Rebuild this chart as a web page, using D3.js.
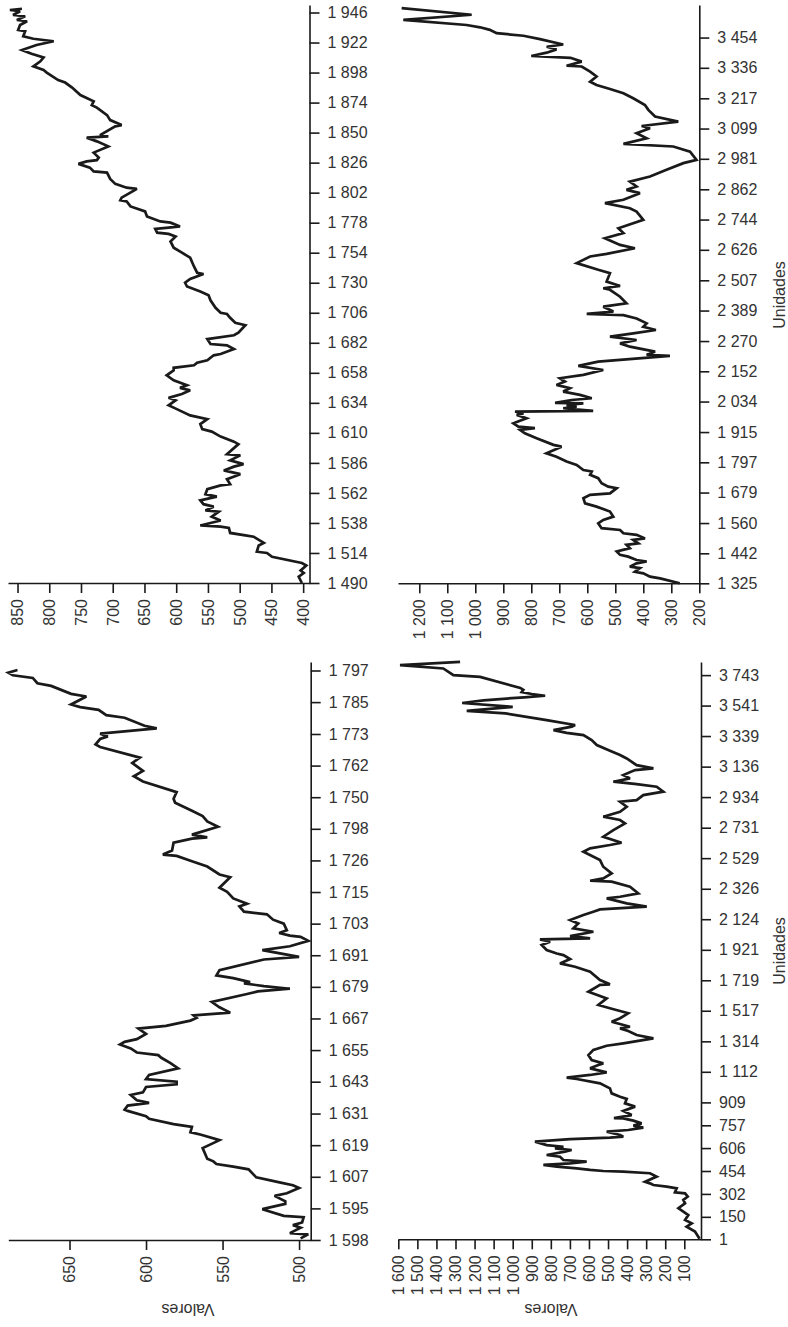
<!DOCTYPE html>
<html>
<head>
<meta charset="utf-8">
<script src="https://cdnjs.cloudflare.com/ajax/libs/d3/7.8.5/d3.min.js"></script>
<style>
  body { margin: 0; background: #fff; }
  svg { display: block; font-family: "Liberation Sans", Arial, sans-serif; }
</style>
</head>
<body>
<div id="wrapper"></div>
<script>
// top-left panel
const tlUnits = [1490,1495,1498,1500,1504,1506,1511,1514,1515,1520,1522,1527,1528,1530,1534,1535,1536,1540,1543,1547,1548,1551,1553,1556,1559,1561,1565,1568,1569,1573,1577,1580,1583,1585,1588,1592,1593,1601,1603,1607,1611,1613,1617,1621,1624,1629,1632,1636,1638,1641,1644,1646,1648,1652,1656,1660,1662,1664,1666,1668,1672,1673,1677,1680,1681,1685,1688,1690,1696,1698,1702,1705,1706,1710,1716,1720,1723,1727,1730,1733,1737,1738,1743,1750,1754,1758,1763,1767,1769,1770,1773,1774,1775,1778,1779,1783,1787,1791,1795,1796,1798,1805,1806,1809,1813,1818,1819,1822,1825,1827,1828,1830,1834,1839,1843,1846,1847,1848,1855,1856,1860,1864,1870,1872,1875,1880,1886,1890,1892,1898,1900,1903,1907,1910,1913,1916,1920,1923,1924,1925,1927,1931,1932,1936,1939,1940,1943,1944,1947,1948,1949]
const tlValues = [402,407,399,404,395,402,449,457,473,470,462,478,491,515,517,530,562,530,544,533,554,541,557,562,536,554,551,530,515,520,499,525,509,494,515,499,520,502,509,530,544,559,562,551,578,599,612,601,612,591,578,594,583,604,615,604,604,572,567,551,541,530,509,520,546,551,509,502,491,507,515,520,530,538,546,549,562,583,586,578,557,567,572,578,591,604,609,601,612,630,633,612,594,609,625,646,649,672,678,688,686,662,678,696,704,709,730,736,754,741,725,722,730,707,725,741,707,720,696,686,704,709,725,733,730,751,764,775,786,804,809,825,814,809,828,843,820,793,809,825,841,838,849,846,835,851,838,857,846,862,843]
const tlValueTicks = [400,450,500,550,600,650,700,750,800,850]
const tlUnitTicks = [1490,1514,1538,1562,1586,1610,1634,1658,1682,1706,1730,1754,1778,1802,1826,1850,1874,1898,1922,1946]

// top-right panel
const trUnits = [1325,1344,1351,1364,1370,1384,1390,1403,1410,1416,1429,1436,1449,1462,1475,1481,1494,1500,1514,1520,1533,1540,1559,1572,1585,1605,1624,1637,1657,1670,1676,1696,1702,1715,1735,1748,1761,1767,1787,1800,1819,1832,1858,1865,1891,1910,1923,1930,1936,1949,1969,1982,1988,1995,1998,2008,2014,2021,2027,2029,2040,2047,2060,2073,2086,2099,2112,2125,2138,2157,2173,2190,2212,2216,2229,2248,2261,2274,2287,2300,2313,2326,2339,2358,2371,2376,2385,2404,2417,2443,2470,2476,2485,2502,2535,2548,2574,2600,2610,2632,2645,2671,2691,2710,2743,2775,2788,2808,2821,2847,2860,2873,2892,2912,2938,2964,2977,3009,3029,3039,3061,3081,3100,3109,3126,3146,3172,3191,3217,3237,3253,3269,3282,3302,3321,3341,3344,3360,3375,3382,3395,3408,3418,3427,3448,3461,3471,3484,3494,3503,3523,3543,3569]
const trValues = [270,340,376,400,430,412,448,424,388,424,454,483,495,448,460,418,436,394,424,471,483,549,561,543,507,519,567,608,614,590,519,495,525,549,561,590,584,614,638,674,710,746,692,721,781,823,840,787,846,864,817,852,828,858,579,686,638,674,614,715,656,584,626,686,662,710,680,698,614,543,632,561,305,388,358,448,483,424,519,436,355,400,388,424,471,602,507,543,460,483,519,543,483,531,519,561,638,590,531,430,483,537,471,489,400,424,448,537,471,412,460,424,448,376,317,257,210,233,293,471,388,424,376,406,275,358,382,394,436,471,519,567,590,567,590,620,674,620,660,800,745,710,745,686,769,828,924,948,983,1031,1257,1013,1263]
const trValueTicks = [200,300,400,500,600,700,800,900,1000,1100,1200]
const trUnitTicks = [1325,1442,1560,1679,1797,1915,2034,2152,2270,2389,2507,2626,2744,2862,2981,3099,3217,3336,3454]

// bottom-left panel
const blUnits = [1584,1585.5,1586,1588,1589,1590,1592,1592.5,1595,1597,1598,1600,1601,1603,1604,1605,1607,1610,1611,1612,1613,1614,1618,1621,1623,1624,1626,1627,1629,1630,1632,1632.5,1634,1635,1636,1638,1639,1641,1642,1643,1644,1645.5,1648,1650,1652,1653,1654,1655.5,1657,1658,1659,1661,1663,1664,1666,1667,1668,1669,1671,1673,1676,1677,1678,1679,1680,1680.5,1682,1683,1685,1689,1690,1692.5,1694,1696,1697.5,1698,1699,1700,1702.5,1704,1706,1707,1709,1710,1712,1714.5,1716,1720,1721,1724,1726,1728,1728.5,1730,1733,1734.5,1735,1736,1739,1741,1743,1745,1748,1749.5,1752,1756,1758,1760,1763,1765,1769,1770,1772,1773,1774,1776,1777,1780,1781,1783,1784,1785,1788,1789,1792,1793,1795,1796,1797,1798]
const blValues = [499,494,506,499,504,498,497,510,524,509,509,516,508,500,504,512,528,533,543,554,556,560,563,552,564,571,570,582,598,600,612,614,612,598,606,610,602,600,580,580,600,598,579,584,590,592,606,610,617,614,606,600,605,587,571,567,569,545,552,557,534,527,506,523,536,532,543,554,552,523,500,524,506,494,499,506,513,508,510,517,521,536,539,534,543,547,552,545,552,560,570,580,589,583,582,570,560,570,553,560,563,570,581,582,580,602,608,602,609,604,630,633,630,625,630,593,601,614,626,631,643,649,639,649,662,671,674,687,690,684]
const blValueTicks = [500,550,600,650]
const blUnitTicks = [1583.4,1595.3,1607.2,1619.1,1631.0,1643.0,1654.9,1666.8,1678.7,1690.6,1702.5,1714.4,1726.3,1738.2,1750.1,1762.0,1773.9,1785.9,1797.8]
const blUnitLabels = ["1 598","1 595","1 607","1 619","1 631","1 643","1 655","1 667","1 679","1 691","1 703","1 715","1 726","1 798","1 750","1 762","1 773","1 785","1 797"]

// bottom-right panel
const brUnits = [5,52,85,107,129,162,184,207,240,262,284,306,313,339,350,361,372,383,417,439,450,454,461,472,483,494,505,516,527,549,560,582,593,604,615,626,649,666,675,682,693,715,726,742,755,770,788,803,805,825,852,881,903,932,947,969,1002,1035,1064,1073,1091,1108,1135,1157,1168,1190,1223,1257,1285,1301,1334,1356,1382,1400,1411,1444,1467,1500,1515,1533,1555,1599,1643,1688,1692,1721,1776,1809,1831,1860,1886,1897,1920,1953,1975,1990,1997,2012,2041,2063,2096,2119,2152,2174,2189,2207,2229,2262,2273,2295,2340,2373,2379,2395,2428,2472,2516,2572,2594,2616,2631,2671,2715,2760,2782,2804,2837,2870,2903,2914,2947,2970,3003,3020,3036,3058,3080,3113,3124,3146,3190,3213,3241,3279,3312,3345,3360,3378,3401,3412,3445,3489,3506,3532,3558,3576,3596,3606,3618,3630,3645,3658,3731,3743,3765,3787,3809,3831]
const brValues = [20,44,88,61,96,79,105,131,96,105,82,96,149,140,192,262,280,306,245,280,420,525,594,664,769,839,699,612,734,752,822,726,691,778,734,822,883,699,490,420,437,507,394,315,367,324,367,420,469,376,420,358,411,402,437,481,490,542,664,717,594,507,594,551,525,586,603,577,507,420,262,350,394,437,385,481,437,394,437,490,551,507,603,542,490,542,594,673,752,699,734,769,822,848,804,857,594,699,577,682,656,699,629,577,542,297,402,507,437,341,385,481,594,525,481,525,542,629,594,490,429,525,472,411,437,525,437,402,437,350,315,210,245,350,472,385,420,358,262,350,402,437,490,559,586,629,717,786,690,673,822,1038,1241,1000,1265,1153,940,830,900,953,944,960,1171,1311,1337,1364,1591,1276]
const brValueTicks = [100,200,300,400,500,600,700,800,900,1000,1100,1200,1300,1400,1500,1600]
const brUnitTicks = [1,150,302,454,606,757,909,1112,1314,1517,1719,1921,2124,2326,2529,2731,2934,3136,3339,3541,3743]

const fmt = d3.formatLocale({decimal: ",", thousands: " ", grouping: [3], currency: ["", ""]}).format(",d")

const panels = [
  {units: tlUnits, values: tlValues, valueTicks: tlValueTicks, unitTicks: tlUnitTicks, unitLabels: tlUnitTicks.map(fmt),
   left: 8, right: 309.5, top: 5, bottom: 583, valueDomain: [865, 390], unitDomain: [1490, 1952]},
  {units: trUnits, values: trValues, valueTicks: trValueTicks, unitTicks: trUnitTicks, unitLabels: trUnitTicks.map(fmt),
   left: 398, right: 699.3, top: 5, bottom: 583.3, valueDomain: [1276, 200], unitDomain: [1325, 3581],
   unidadesY: 295},
  {units: blUnits, values: blValues, valueTicks: blValueTicks, unitTicks: blUnitTicks, unitLabels: blUnitLabels,
   left: 8.3, right: 310.7, top: 662, bottom: 1240, valueDomain: [690, 492.4], unitDomain: [1583.4, 1801],
   valoresX: 188},
  {units: brUnits, values: brValues, valueTicks: brValueTicks, unitTicks: brUnitTicks, unitLabels: brUnitTicks.map(fmt),
   left: 398.3, right: 701, top: 662, bottom: 1239.3, valueDomain: [1600, 12.4], unitDomain: [1, 3830],
   valoresX: 551, unidadesY: 951},
]

const width = 788
const height = 1327

const wrapper = d3.select("#wrapper")
  .append("svg")
    .attr("width", width)
    .attr("height", height)

panels.forEach(p => {
  const xScale = d3.scaleLinear()
    .domain(p.valueDomain)
    .range([p.left, p.right])

  const yScale = d3.scaleLinear()
    .domain(p.unitDomain)
    .range([p.bottom, p.top])

  const g = wrapper.append("g")

  // values axis (bottom, labels turned)
  const xAxis = g.append("g")
    .attr("transform", `translate(0, ${p.bottom})`)
    .call(d3.axisBottom(xScale)
      .tickValues(p.valueTicks)
      .tickFormat(fmt)
      .tickSize(10)
      .tickSizeOuter(0))
  xAxis.selectAll("text")
    .attr("transform", "rotate(-90)")
    .attr("x", -16)
    .attr("y", 0)
    .attr("dy", "0.34em")
    .style("text-anchor", "end")

  // units axis (right)
  const yAxis = g.append("g")
    .attr("transform", `translate(${p.right}, 0)`)
    .call(d3.axisRight(yScale)
      .tickValues(p.unitTicks)
      .tickFormat((d, i) => p.unitLabels[i])
      .tickSize(10)
      .tickPadding(8)
      .tickSizeOuter(0))

  g.selectAll(".domain, .tick line")
    .attr("stroke", "#1a1a1a")
    .attr("stroke-width", 1.6)
  g.selectAll(".tick text")
    .attr("fill", "#333")
    .style("font-size", "16px")
    .style("font-family", "'Liberation Sans', Arial, sans-serif")

  const lineGenerator = d3.line()
    .x((d, i) => xScale(p.values[i]))
    .y(d => yScale(d))

  g.append("path")
    .attr("d", lineGenerator(p.units))
    .attr("fill", "none")
    .attr("stroke", "#1a1a1a")
    .attr("stroke-width", 2.7)
    .attr("stroke-linejoin", "miter")
    .attr("stroke-miterlimit", 3)

  if (p.valoresX) {
    g.append("text")
      .attr("transform", `translate(${p.valoresX}, 1304) rotate(180)`)
      .attr("text-anchor", "middle")
      .attr("fill", "#333")
      .style("font-size", "16px")
      .text("Valores")
  }
  if (p.unidadesY) {
    g.append("text")
      .attr("transform", `translate(785, ${p.unidadesY}) rotate(-90)`)
      .attr("text-anchor", "middle")
      .attr("fill", "#333")
      .style("font-size", "16px")
      .text("Unidades")
  }
})
</script>
</body>
</html>
